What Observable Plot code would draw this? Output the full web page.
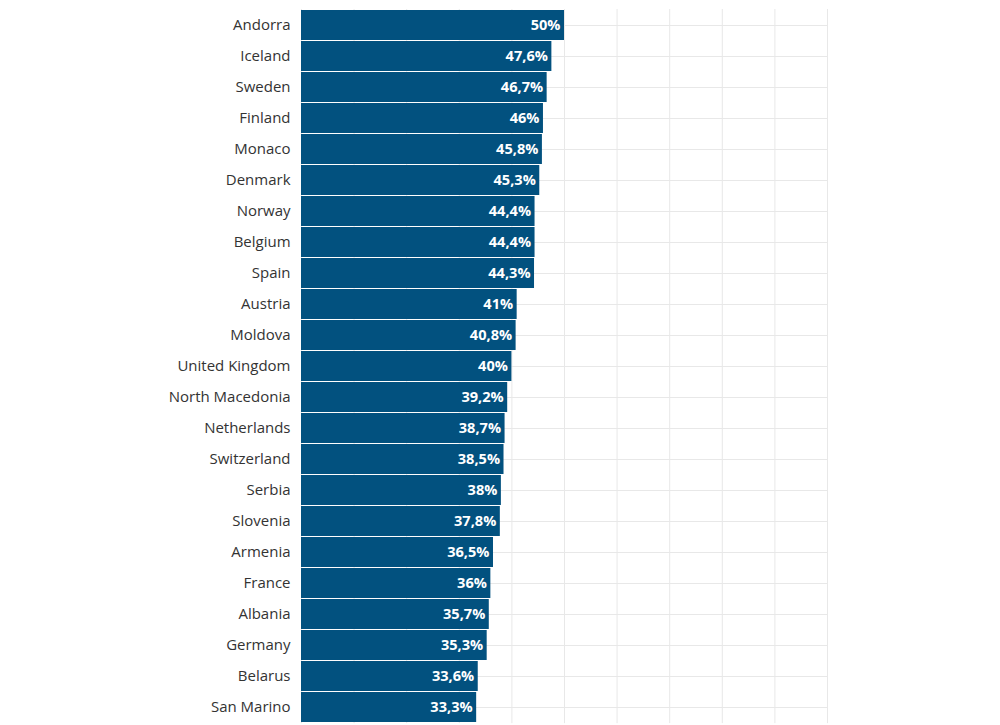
<!DOCTYPE html>
<html>
<head>
<meta charset="utf-8">
<script src="https://cdn.jsdelivr.net/npm/d3@7"></script>
<script src="https://cdn.jsdelivr.net/npm/@observablehq/plot@0.6"></script>
<style>
  html, body { margin: 0; padding: 0; background: #fff; }
  #chart { width: 1000px; height: 725px; overflow: hidden; }
</style>
</head>
<body>
<div id="chart"></div>
<script>
const countries = ["Andorra","Iceland","Sweden","Finland","Monaco","Denmark","Norway","Belgium","Spain","Austria","Moldova","United Kingdom","North Macedonia","Netherlands","Switzerland","Serbia","Slovenia","Armenia","France","Albania","Germany","Belarus","San Marino"];
const shares = [50,47.6,46.7,46,45.8,45.3,44.4,44.4,44.3,41,40.8,40,39.2,38.7,38.5,38,37.8,36.5,36,35.7,35.3,33.6,33.3];
const xTicks = [0,10,20,30,40,50,60,70,80,90,100];

const data = countries.map((c, i) => ({country: c, value: shares[i]}));
const fmt = v => String(v).replace(".", ",") + "%";

const rowStep = 31.05;
const marginTop = 9;
const height = marginTop + countries.length * rowStep + 2;

const chart = Plot.plot({
  width: 1000,
  height: height,
  marginLeft: 301,
  marginRight: 173,
  marginTop: marginTop,
  marginBottom: 2,
  style: {fontFamily: "'Open Sans', sans-serif", fontSize: "15px", color: "#333", background: "#fff"},
  x: {domain: [0, 100], axis: null},
  y: {domain: countries, paddingInner: 0.04, paddingOuter: 0.02, label: null, tickSize: 0, tickPadding: 11},
  marks: [
    Plot.ruleX(xTicks, {stroke: "#e8e8e8", strokeWidth: 1}),
    Plot.tickY(countries, {y: d => d, stroke: "#e8e8e8", strokeWidth: 1}),
    Plot.barX(data, {x: "value", y: "country", fill: "#02517f"}),
    Plot.text(data, {x: "value", y: "country", text: d => fmt(d.value), textAnchor: "end", dx: -4, fill: "white", fontWeight: 700, fontSize: 14.6}),
    Plot.axisY({tickSize: 0, tickPadding: 11, label: null, fontSize: 15})
  ]
});
document.getElementById("chart").appendChild(chart);
</script>
</body>
</html>
